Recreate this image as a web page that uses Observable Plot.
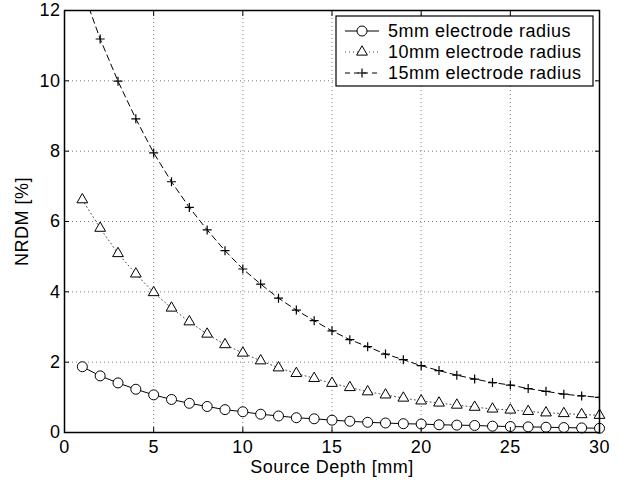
<!DOCTYPE html>
<html><head><meta charset="utf-8">
<script src="https://cdn.jsdelivr.net/npm/d3@7"></script>
<script src="https://cdn.jsdelivr.net/npm/@observablehq/plot@0.6"></script>
<style>html,body{margin:0;padding:0;background:#fff}</style>
</head><body><div id="chart"></div>
<script>
const depth = [1,2,3,4,5,6,7,8,9,10,11,12,13,14,15,16,17,18,19,20,21,22,23,24,25,26,27,28,29,30];
const nrdm5 = [1.87,1.61,1.41,1.23,1.07,0.94,0.83,0.74,0.65,0.59,0.52,0.47,0.42,0.39,0.35,0.32,0.29,0.27,0.25,0.24,0.22,0.21,0.20,0.18,0.17,0.16,0.15,0.14,0.13,0.12];
const nrdm10 = [6.62,5.81,5.09,4.51,3.98,3.54,3.15,2.80,2.50,2.26,2.04,1.84,1.68,1.54,1.40,1.28,1.16,1.07,0.98,0.90,0.84,0.78,0.72,0.67,0.64,0.60,0.56,0.54,0.51,0.49];
const nrdm15 = [12.6,11.19,9.99,8.92,7.95,7.13,6.40,5.76,5.17,4.65,4.22,3.82,3.48,3.18,2.89,2.64,2.44,2.23,2.07,1.90,1.76,1.63,1.52,1.42,1.35,1.25,1.17,1.09,1.04,1.00];
const seriesNames = ["5mm electrode radius", "10mm electrode radius", "15mm electrode radius"];
const xTicks = [0,5,10,15,20,25,30];
const yTicks = [0,2,4,6,8,10,12];
const xLabel = "Source Depth [mm]";
const yLabel = "NRDM [%]";

const data = depth.map((d, i) => ({d, v5: nrdm5[i], v10: nrdm10[i], v15: nrdm15[i]}));
const plusSymbol = {draw(ctx) { const r = 4.5; ctx.moveTo(-r, 0); ctx.lineTo(r, 0); ctx.moveTo(0, -r); ctx.lineTo(0, r); }};
const blank = () => "";

const svg = Plot.plot({
  width: 622, height: 480,
  marginLeft: 64, marginRight: 23, marginTop: 10, marginBottom: 48,
  style: {fontFamily: "'Liberation Sans', Arial, sans-serif", fontSize: "18px", letterSpacing: "0.5px", color: "#000", background: "#fff"},
  x: {domain: [0, 30], ticks: xTicks},
  y: {domain: [0, 12], ticks: yTicks},
  marks: [
    Plot.gridX(xTicks, {stroke: "#000", strokeOpacity: 0.5, strokeDasharray: "1,3"}),
    Plot.gridY(yTicks, {stroke: "#000", strokeOpacity: 0.5, strokeDasharray: "1,3"}),
    Plot.line(data, {x: "d", y: "v5", stroke: "#000", strokeWidth: 1}),
    Plot.line(data, {x: "d", y: "v10", stroke: "#000", strokeWidth: 1, strokeOpacity: 0.7, strokeDasharray: "1,3"}),
    Plot.line(data, {x: "d", y: "v15", stroke: "#000", strokeWidth: 1, strokeDasharray: "6,4", clip: true}),
    Plot.dot(data, {x: "d", y: "v5", r: 5, fill: "white", stroke: "black", strokeWidth: 1}),
    Plot.dot(data, {x: "d", y: "v10", symbol: "triangle", r: 4, fill: "white", stroke: "black", strokeWidth: 1}),
    Plot.dot(data, {x: "d", y: "v15", symbol: plusSymbol, fill: "none", stroke: "black", strokeWidth: 1.2, clip: true}),
    Plot.frame({stroke: "black", strokeWidth: 1.5}),
    Plot.axisX(xTicks, {anchor: "bottom", tickSize: 0, tickPadding: 8, label: xLabel, labelAnchor: "center", labelOffset: 40, labelArrow: "none"}),
    Plot.axisX(xTicks, {anchor: "bottom", tickSize: -5, tickFormat: blank, label: null}),
    Plot.axisX(xTicks, {anchor: "top", tickSize: -5, tickFormat: blank, label: null}),
    Plot.axisY(yTicks, {anchor: "left", tickSize: 0, tickPadding: 4, label: yLabel, labelAnchor: "center", labelOffset: 49, labelArrow: "none"}),
    Plot.axisY(yTicks, {anchor: "left", tickSize: -5, tickFormat: blank, label: null}),
    Plot.axisY(yTicks, {anchor: "right", tickSize: -5, tickFormat: blank, label: null})
  ]
});

// legend
const lg = d3.select(svg).append("g").attr("text-anchor", "start");
lg.append("rect").attr("x", 336).attr("y", 16).attr("width", 257).attr("height", 70)
  .attr("fill", "white").attr("stroke", "black").attr("stroke-width", 1.2);
const rowsY = [31, 52, 73];
const dashes = [null, "1,3", "5,4"];
seriesNames.forEach((name, i) => {
  const y = rowsY[i];
  lg.append("line").attr("x1", 345).attr("x2", 379).attr("y1", y).attr("y2", y)
    .attr("stroke", "black").attr("stroke-dasharray", dashes[i]).attr("stroke-opacity", i === 1 ? 0.7 : 1);
  if (i === 0) {
    lg.append("circle").attr("cx", 362).attr("cy", y).attr("r", 5).attr("fill", "white").attr("stroke", "black");
  } else if (i === 1) {
    lg.append("path").attr("transform", `translate(362,${y})`)
      .attr("d", d3.symbol(d3.symbolTriangle, Math.PI * 16)()).attr("fill", "white").attr("stroke", "black");
  } else {
    lg.append("path").attr("transform", `translate(362,${y})`)
      .attr("d", "M-4.5,0H4.5M0,-4.5V4.5").attr("fill", "none").attr("stroke", "black").attr("stroke-width", 1.2);
  }
  lg.append("text").attr("x", 388).attr("y", y).attr("dy", "0.35em").attr("text-anchor", "start").text(name);
});

document.getElementById("chart").appendChild(svg);
</script>
</body></html>
